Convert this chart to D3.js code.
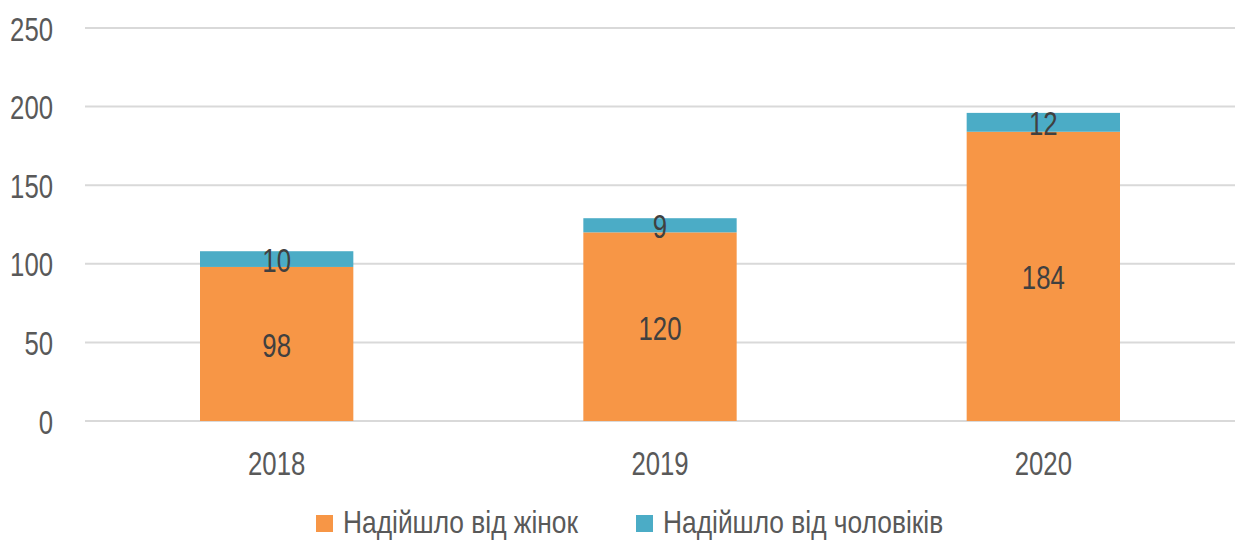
<!DOCTYPE html>
<html>
<head>
<meta charset="utf-8">
<script src="https://cdn.jsdelivr.net/npm/d3@7"></script>
<style>
  body { margin: 0; background: #fff; }
  text { font-family: 'Liberation Sans', Arial, sans-serif; }
</style>
</head>
<body>
<svg id="chart" width="1235" height="540"></svg>
<script>
// data
var years = ['2018', '2019', '2020'];
var women = [98, 120, 184];
var men = [10, 9, 12];
var yTicks = [0, 50, 100, 150, 200, 250];
var seriesNames = ['Надійшло від жінок', 'Надійшло від чоловіків'];
var seriesColors = ['#F79646', '#4BACC6'];

var svg = d3.select('#chart');
var padding = {l: 85, r: 0, t: 28, b: 119};
var svgWidth = 1235, svgHeight = 540;

// squeeze text horizontally to look like a narrow face
function place(tx, ty, s){
    return 'translate(' + tx + ',' + ty + ') scale(' + (s || 0.78) + ',1)';
}

var x = d3.scaleBand()
    .domain(years)
    .range([padding.l, svgWidth - padding.r])
    .paddingInner(0.6)
    .paddingOuter(0.3);

var y = d3.scaleLinear()
    .domain([0, 250])
    .range([svgHeight - padding.b, padding.t]);

// gridlines
svg.append('g')
    .selectAll('line')
    .data(yTicks)
    .enter()
    .append('line')
    .attr('x1', padding.l)
    .attr('x2', svgWidth)
    .attr('y1', function(d){ return y(d); })
    .attr('y2', function(d){ return y(d); })
    .attr('stroke', '#d9d9d9')
    .attr('stroke-width', 2);

// y tick labels
svg.append('g')
    .selectAll('text')
    .data(yTicks)
    .enter()
    .append('text')
    .attr('transform', function(d){ return place(53, y(d) + 12.5); })
    .attr('text-anchor', 'end')
    .style('font-size', '33px')
    .style('fill', '#595959')
    .text(function(d){ return d; });

// stacked bars
var rows = years.map(function(yr, i){
    return {year: yr, women: women[i], men: men[i]};
});
var stack = d3.stack().keys(['women', 'men'])(rows);

var layers = svg.selectAll('.layer')
    .data(stack)
    .enter()
    .append('g')
    .attr('class', 'layer')
    .attr('fill', function(d, i){ return seriesColors[i]; });

layers.selectAll('rect')
    .data(function(d){ return d; })
    .enter()
    .append('rect')
    .attr('x', function(d){ return x(d.data.year); })
    .attr('width', x.bandwidth())
    .attr('y', function(d){ return y(d[1]); })
    .attr('height', function(d){ return y(d[0]) - y(d[1]); });

// value labels
layers.selectAll('text')
    .data(function(d){ return d.map(function(v){ return {v: v, key: d.key}; }); })
    .enter()
    .append('text')
    .attr('transform', function(d){
        return place(x(d.v.data.year) + x.bandwidth() / 2, (y(d.v[0]) + y(d.v[1])) / 2 + 13);
    })
    .attr('text-anchor', 'middle')
    .style('font-size', '33px')
    .style('fill', '#404040')
    .text(function(d){ return d.v.data[d.key]; });

// x labels
svg.append('g')
    .selectAll('text')
    .data(years)
    .enter()
    .append('text')
    .attr('transform', function(d){ return place(x(d) + x.bandwidth() / 2, 475); })
    .attr('text-anchor', 'middle')
    .style('font-size', '33px')
    .style('fill', '#595959')
    .text(function(d){ return d; });

// legend
var legendX = [316, 636];
var legend = svg.append('g')
    .selectAll('g')
    .data(seriesNames)
    .enter()
    .append('g')
    .attr('transform', function(d, i){ return 'translate(' + legendX[i] + ',515)'; });

legend.append('rect')
    .attr('width', 17)
    .attr('height', 17)
    .attr('fill', function(d, i){ return seriesColors[i]; });

legend.append('text')
    .attr('transform', place(27, 18, 0.85))
    .style('font-size', '31px')
    .style('fill', '#595959')
    .text(function(d){ return d; });
</script>
</body>
</html>
